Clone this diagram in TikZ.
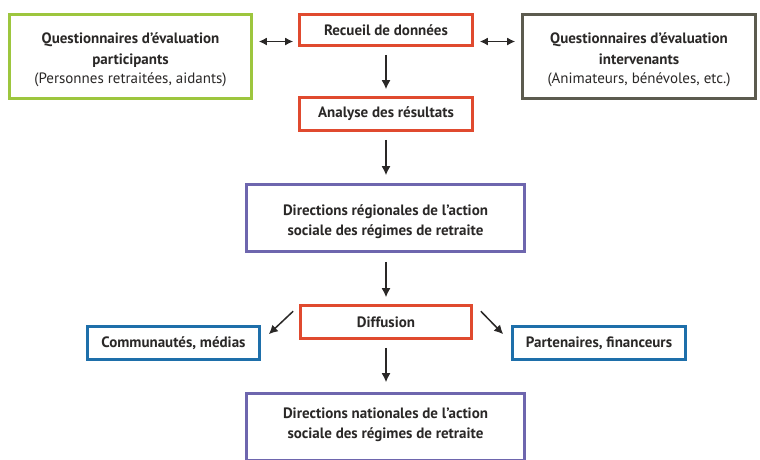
\documentclass[tikz,border=0pt]{standalone}
\usepackage{fontspec}
\setmainfont{PT Sans}
\usetikzlibrary{arrows.meta,calc}
\definecolor{cred}{HTML}{E04A2F}
\definecolor{cgreen}{HTML}{9DC63E}
\definecolor{cgray}{HTML}{5C5B4F}
\definecolor{cpurple}{HTML}{6E66AE}
\definecolor{cblue}{HTML}{1E6FAA}
\definecolor{ctext}{HTML}{2A2827}
\begin{document}
\begin{tikzpicture}[x=1pt,y=-1pt,
  box/.style={draw, line width=2.6pt, fill=white, text=ctext, align=center, inner sep=0pt, font=\fontsize{15}{20}\selectfont},
  txt/.style={text=ctext, align=center, inner sep=0pt, font=\fontsize{15}{20}\selectfont},
  arr/.style={draw=ctext, line width=1.5pt, -{Latex[length=9pt,width=9pt]}},
  darr/.style={draw=ctext, line width=1.5pt, {Latex[length=8pt,width=8pt]}-{Latex[length=8pt,width=8pt]}}]
\useasboundingbox (0,0) rectangle (760,459);
\clip (0,0) rectangle (760,459);
\fill[white] (0,0) rectangle (760,459);
% nodes
\node[box, draw=cgreen, minimum width=242pt, minimum height=84pt] (qp) at (130.5,56.5) {};
\node[txt] (qpt) at ($(qp)+(0,3)$)
  {\textbf{Questionnaires d’évaluation}\\[1pt]\textbf{participants}\\[-1pt](Personnes retraitées, aidants)};
\node[box, draw=cred, minimum width=173pt, minimum height=31pt] (rec) at (386,30) {\textbf{Recueil de données}};
\node[box, draw=cgray, minimum width=233pt, minimum height=84pt] (qi) at (639,56.5) {};
\node[txt] (qit) at ($(qi)+(0,3)$)
  {\textbf{Questionnaires d’évaluation}\\[1pt]\textbf{intervenants}\\[-1pt](Animateurs, bénévoles, etc.)};
\node[box, draw=cred, minimum width=173pt, minimum height=33pt] (ana) at (386,114) {\textbf{Analyse des résultats}};
\node[box, draw=cpurple, minimum width=278pt, minimum height=67pt] (dr) at (385.5,218) {};
\node[txt] (drt) at ($(dr)+(0,4)$)
  {\textbf{Directions régionales de l’action}\\\textbf{sociale des régimes de retraite}};
\node[box, draw=cred, minimum width=171pt, minimum height=33pt] (dif) at (386,322) {\textbf{Diffusion}};
\node[box, draw=cblue, minimum width=172pt, minimum height=33pt] (com) at (173.5,343) {\textbf{Communautés, médias}};
\node[box, draw=cblue, minimum width=173pt, minimum height=33pt] (par) at (599,343) {\textbf{Partenaires, financeurs}};
\node[box, draw=cpurple, minimum width=278pt, minimum height=67pt] (dn) at (385.5,427) {};
\node[txt] (dnt) at ($(dn)+(0,-2)$)
  {\textbf{Directions nationales de l’action}\\\textbf{sociale des régimes de retraite}};
% connectors
\draw[darr, shorten <=6pt, shorten >=5pt] ([yshift=15pt]qp.east) -- ([yshift=15pt]qp.east -| rec.west);
\draw[darr, shorten <=6pt, shorten >=6pt] ([yshift=15pt]qi.west -| rec.east) -- ([yshift=15pt]qi.west);
\draw[arr, shorten <=8pt, shorten >=7pt] (rec) -- (ana);
\draw[arr, shorten <=8pt, shorten >=8pt] (ana) -- (dr.north -| ana.south);
\draw[arr, shorten <=9pt, shorten >=7pt] (dr.south -| dif.north) -- (dif);
\draw[arr, shorten <=8pt, shorten >=10pt] (dif) -- (dn.north -| dif.south);
\coordinate (c1) at ($(dif.north west)+(-6,7)$);
\coordinate (c2) at ($(com.north east)+(8,9)$);
\coordinate (c3) at ($(dif.north east)+(8,7)$);
\coordinate (c4) at ($(par.north west)+(-8,9)$);
\draw[arr] (c1) -- (c2);
\draw[arr] (c3) -- (c4);
\end{tikzpicture}
\end{document}
